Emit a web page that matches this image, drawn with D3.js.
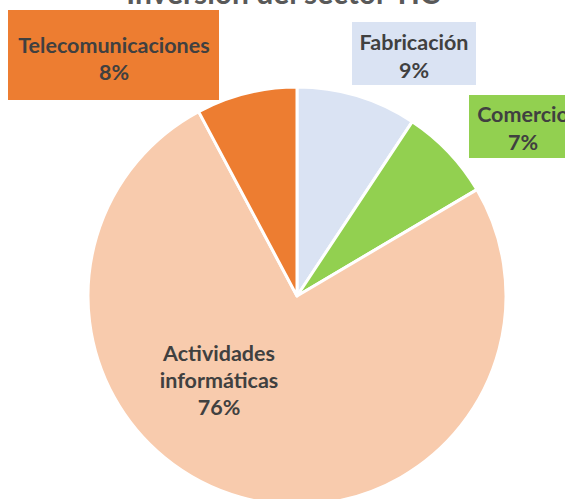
<!DOCTYPE html>
<html>
<head>
<meta charset="utf-8">
<script src="https://cdn.jsdelivr.net/npm/d3@7"></script>
<style>
  body { margin: 0; background: #fff; }
  text { font-family: Lato, "Open Sans", sans-serif; font-weight: bold; fill: #404040; }
</style>
</head>
<body>
<div id="chart"></div>
<script>
var width = 565, height = 499

var sectores = ['Fabricación', 'Comercio', 'Actividades informáticas', 'Telecomunicaciones']
var valores = [9.3, 7.2, 75.7, 7.8]
var etiquetas = ['9%', '7%', '76%', '8%']
var colores = ['#dae3f3', '#92d050', '#f8cbad', '#ed7d31']

var svg = d3.select('#chart')
    .append('svg')
    .attr('width', width)
    .attr('height', height)

// title sits mostly above the visible area
svg.append('text')
    .attr('x', 283)
    .attr('y', 4)
    .attr('text-anchor', 'middle')
    .style('font-size', '30px')
    .style('fill', '#595959')
    .text('Inversión del sector TIC')

var cx = 297, cy = 296, r = 209

var pie = d3.pie().sort(null).value(function(d) { return d })
var arc = d3.arc().innerRadius(0).outerRadius(r)

var g = svg.append('g').attr('transform', 'translate(' + cx + ',' + cy + ')')

g.selectAll('path')
    .data(pie(valores))
    .enter()
    .append('path')
    .attr('d', arc)
    .attr('fill', function(d, i) { return colores[i] })
    .attr('stroke', '#fff')
    .attr('stroke-width', 3)
    .attr('stroke-linejoin', 'round')

// label boxes: [x, y, w, h] and text center / baselines
var cajas = [
    { box: [352, 22, 124, 63], x: 414, lines: ['Fabricación', etiquetas[0]], y: [50, 78] },
    { box: [469, 95, 110, 63], x: 523, lines: ['Comercio', etiquetas[1]], y: [122, 150] },
    { box: null, x: 219, lines: ['Actividades', 'informáticas', etiquetas[2]], y: [361, 388, 415] },
    { box: [8, 10, 211, 90], x: 114, lines: ['Telecomunicaciones', etiquetas[3]], y: [53, 80] }
]

cajas.forEach(function(c, i) {
    if (c.box) {
        svg.append('rect')
            .attr('x', c.box[0])
            .attr('y', c.box[1])
            .attr('width', c.box[2])
            .attr('height', c.box[3])
            .attr('fill', colores[i])
    }
    c.lines.forEach(function(t, j) {
        svg.append('text')
            .attr('x', c.x)
            .attr('y', c.y[j])
            .attr('text-anchor', 'middle')
            .style('font-size', '21.5px')
            .text(t)
    })
})
</script>
</body>
</html>
